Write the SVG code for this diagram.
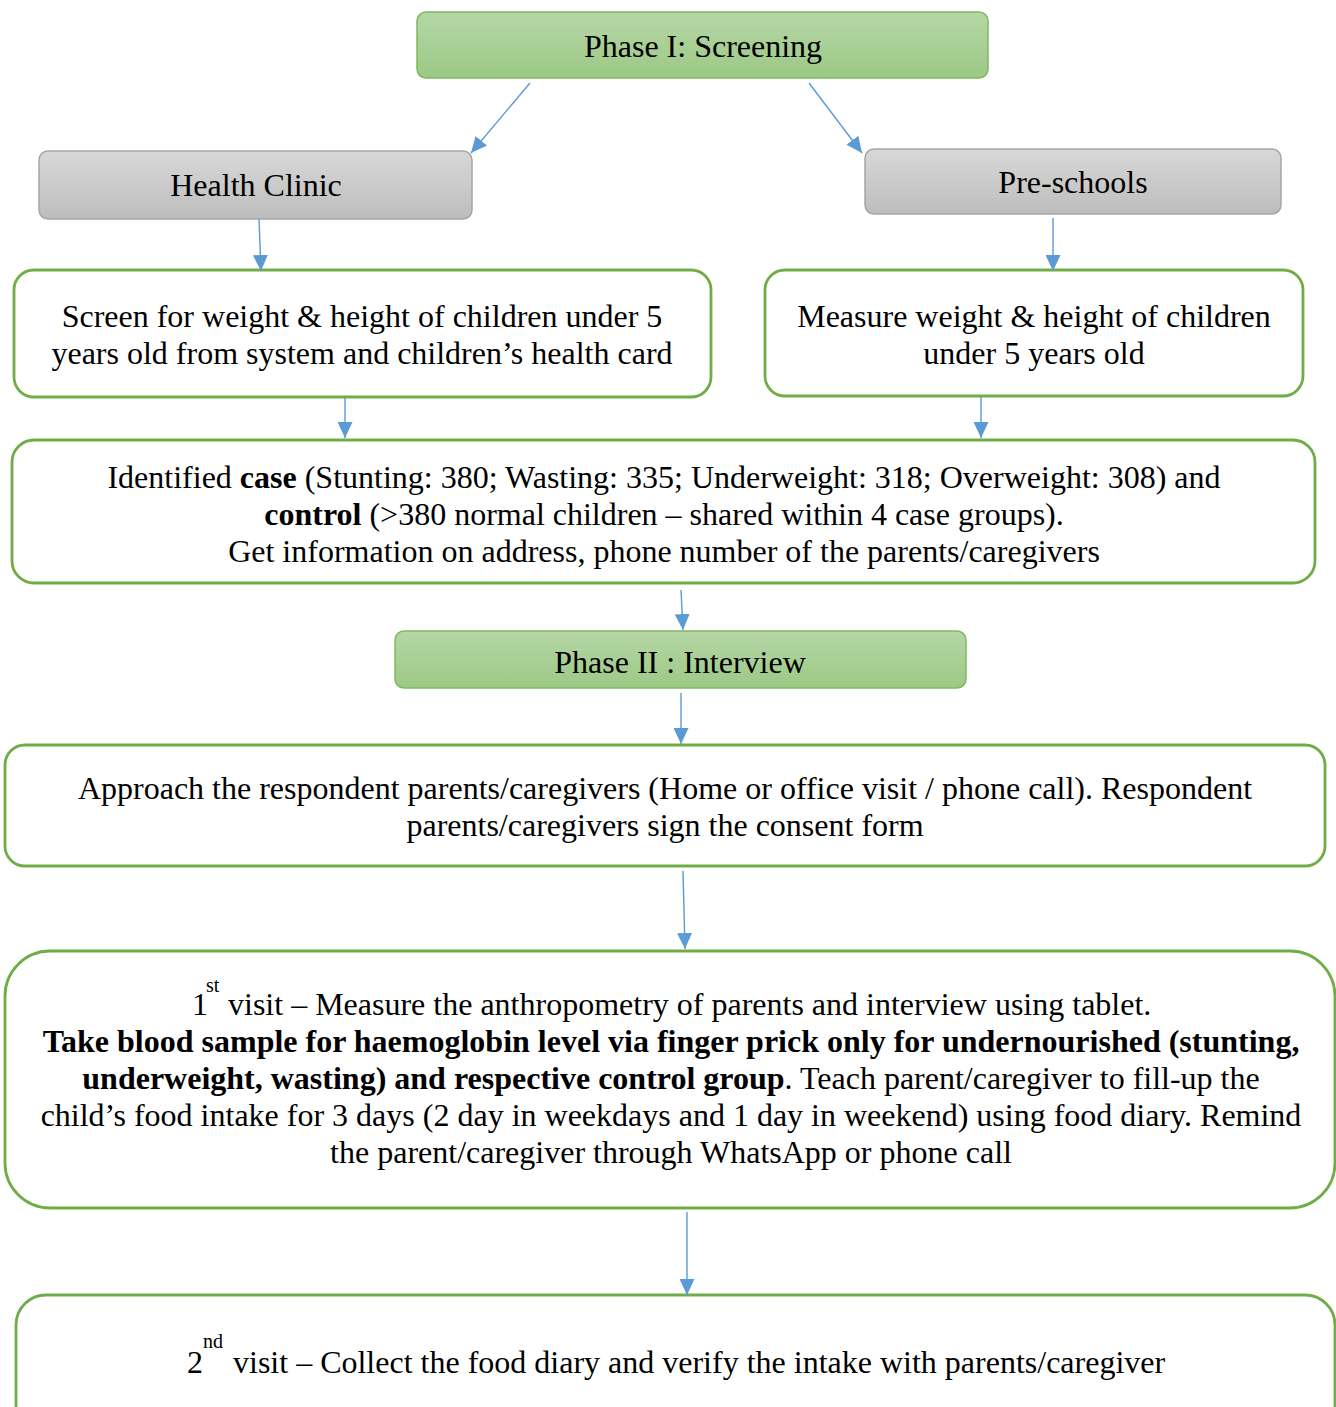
<svg xmlns="http://www.w3.org/2000/svg" width="1336" height="1407" viewBox="0 0 1336 1407">
<defs>
<linearGradient id="gGreen" x1="0" y1="0" x2="0" y2="1">
<stop offset="0" stop-color="#b5d6a6"/>
<stop offset="1" stop-color="#9cc985"/>
</linearGradient>
<linearGradient id="gGray" x1="0" y1="0" x2="0" y2="1">
<stop offset="0" stop-color="#d8d8d8"/>
<stop offset="1" stop-color="#bdbdbd"/>
</linearGradient>
<marker id="arr" markerUnits="userSpaceOnUse" markerWidth="16" markerHeight="15" refX="16" refY="7.5" orient="auto">
<path d="M0,0 L16,7.5 L0,15 z" fill="#5b9bd5"/>
</marker>
<style>
text{font-family:"Liberation Serif","Times New Roman",serif;font-size:32px;fill:#000;}
.c{text-anchor:middle;}
.b{font-weight:bold;}
.sup{font-size:20px;}
.phase{fill:url(#gGreen);stroke:#7eb95f;stroke-width:1.5;}
.gray{fill:url(#gGray);stroke:#a6a6a6;stroke-width:1.5;}
.box{fill:#fff;stroke:#70ad47;stroke-width:2.8;}
.conn line{stroke:#5b9bd5;stroke-width:1.4;fill:none;marker-end:url(#arr);}
</style>
</defs>
<rect width="1336" height="1407" fill="#fff"/>

<g id="phase1">
<rect class="phase" x="417" y="12" width="571" height="66" rx="9"/>
<text class="c" x="703" y="57">Phase I: Screening</text>
</g>
<g id="healthClinic">
<rect class="gray" x="39" y="151" width="433" height="68" rx="9"/>
<text class="c" x="256" y="196">Health Clinic</text>
</g>
<g id="preSchools">
<rect class="gray" x="865" y="149" width="416" height="65" rx="9"/>
<text class="c" x="1073" y="193">Pre-schools</text>
</g>
<g id="screen">
<rect class="box" x="14" y="270" width="697" height="127" rx="20"/>
<text class="c" x="362" y="327">Screen for weight &amp; height of children under 5</text>
<text class="c" x="362" y="364">years old from system and children’s health card</text>
</g>
<g id="measure">
<rect class="box" x="765" y="270" width="538" height="126" rx="20"/>
<text class="c" x="1034" y="327">Measure weight &amp; height of children</text>
<text class="c" x="1034" y="364">under 5 years old</text>
</g>
<g id="identified">
<rect class="box" x="12" y="440" width="1303" height="143" rx="22"/>
<text class="c" x="664" y="488">Identified <tspan class="b">case</tspan> (Stunting: 380; Wasting: 335; Underweight: 318; Overweight: 308) and</text>
<text class="c" x="664" y="525"><tspan class="b">control</tspan> (&gt;380 normal children – shared within 4 case groups).</text>
<text class="c" x="664" y="562">Get information on address, phone number of the parents/caregivers</text>
</g>
<g id="phase2">
<rect class="phase" x="395" y="631" width="571" height="57" rx="9"/>
<text class="c" x="680" y="673">Phase II : Interview</text>
</g>
<g id="approach">
<rect class="box" x="5" y="745" width="1320" height="121" rx="20"/>
<text class="c" x="665" y="799">Approach the respondent parents/caregivers (Home or office visit / phone call). Respondent</text>
<text class="c" x="665" y="836">parents/caregivers sign the consent form</text>
</g>
<g id="visit1">
<rect class="box" x="5" y="951" width="1330" height="257" rx="45"/>
<text x="192" y="1015">1</text>
<text class="sup" x="206" y="992">st</text>
<text x="228" y="1015">visit – Measure the anthropometry of parents and interview using tablet.</text>
<text class="c b" x="671" y="1052">Take blood sample for haemoglobin level via finger prick only for undernourished (stunting,</text>
<text class="c" x="671" y="1089"><tspan class="b">underweight, wasting) and respective control group</tspan>. Teach parent/caregiver to fill-up the</text>
<text class="c" x="671" y="1126">child’s food intake for 3 days (2 day in weekdays and 1 day in weekend) using food diary. Remind</text>
<text class="c" x="671" y="1163">the parent/caregiver through WhatsApp or phone call</text>
</g>
<g id="visit2">
<rect class="box" x="16" y="1295" width="1319" height="140" rx="30"/>
<text x="187" y="1373">2</text>
<text class="sup" x="203" y="1348">nd</text>
<text x="233" y="1373">visit – Collect the food diary and verify the intake with parents/caregiver</text>
</g>

<g id="connectors" class="conn">
<line x1="530" y1="83" x2="471" y2="153"/>
<line x1="809" y1="83" x2="862" y2="153"/>
<line x1="259" y1="219" x2="261" y2="271"/>
<line x1="1053" y1="218" x2="1053" y2="271"/>
<line x1="345" y1="398" x2="345" y2="438"/>
<line x1="981" y1="397" x2="981" y2="438"/>
<line x1="681" y1="590" x2="683" y2="630"/>
<line x1="681" y1="693" x2="681" y2="744"/>
<line x1="683" y1="871" x2="685" y2="949"/>
<line x1="687" y1="1212" x2="687" y2="1295"/>
</g>
</svg>
